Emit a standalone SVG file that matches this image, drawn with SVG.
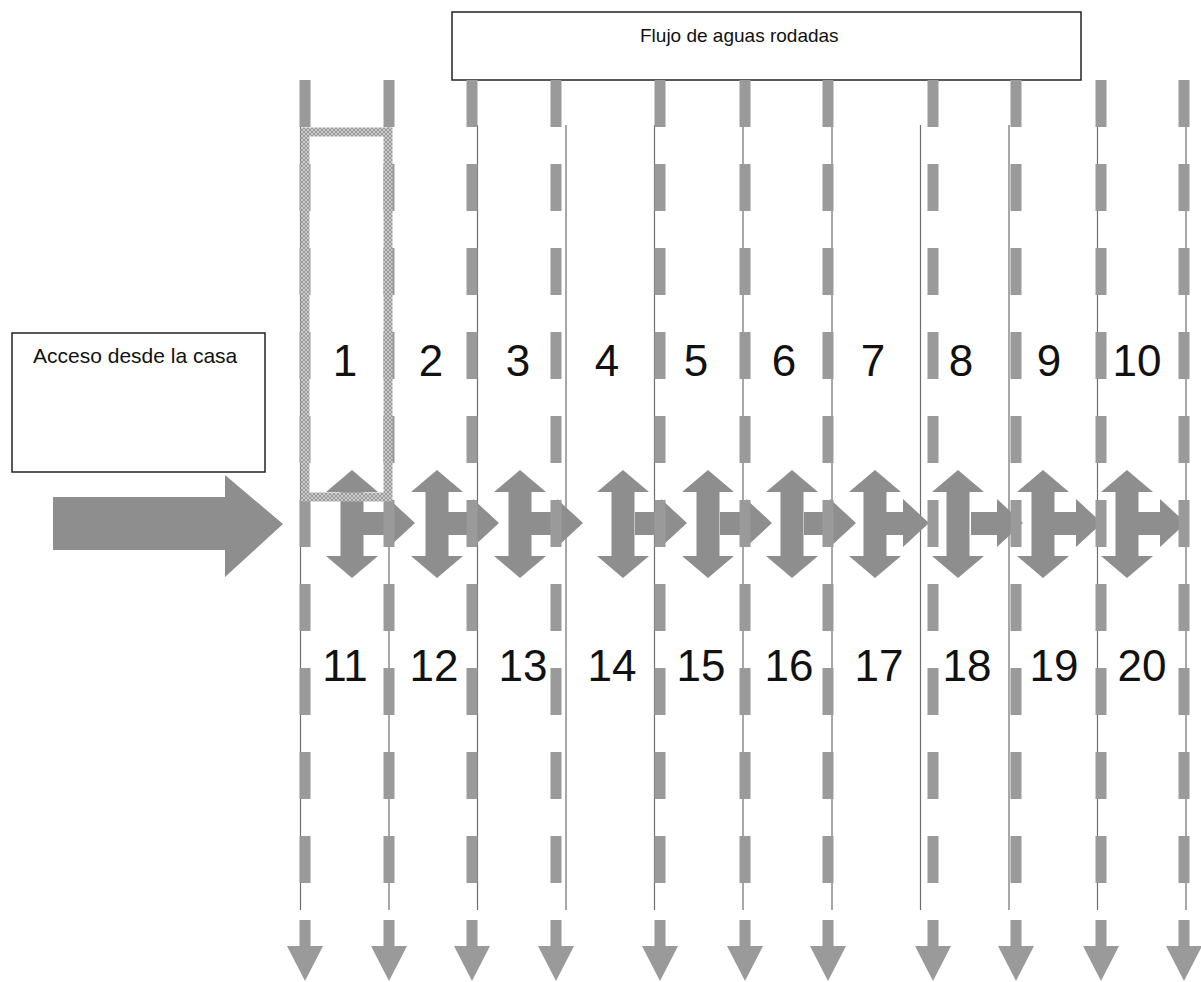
<svg xmlns="http://www.w3.org/2000/svg" xmlns:xlink="http://www.w3.org/1999/xlink" width="1201" height="982" viewBox="0 0 1201 982">
<style>
.box{fill:#fff;stroke:#222;stroke-width:1.5}
.lbl{font-family:"Liberation Sans",Arial,sans-serif;fill:#111}
.num{font-family:"Liberation Sans",Arial,sans-serif;font-size:44px;fill:#111;text-anchor:middle}
.thin{stroke:#6e6e6e;stroke-width:1.2}
.dash{stroke:#9a9a9a;stroke-width:11;stroke-dasharray:47 37;fill:none}
.arr{fill:#8e8e8e}
.head{fill:#9a9a9a}
</style>
<defs>
<pattern id="hatch" width="4" height="4" patternUnits="userSpaceOnUse">
<rect width="4" height="4" fill="#cacaca"/>
<path d="M0,0L4,4M4,0L0,4" stroke="#9c9c9c" stroke-width="1"/>
</pattern>
<g id="vdouble">
<polygon class="arr" points="0,470 26,492 11.5,492 11.5,556 26,556 0,578 -26,556 -11.5,556 -11.5,492 -26,492"/>
</g>
<g id="hright">
<polygon class="arr" points="11,512 37,512 37,499 63,523 37,547 37,535 11,535"/>
</g>
<g id="downhead">
<polygon class="head" points="-18,946 18,946 0,981"/>
</g>
</defs>
<rect width="1201" height="982" fill="#fff"/>

<g id="thin-lines">
<line class="thin" x1="300.5" y1="125" x2="300.5" y2="910"/>
<line class="thin" x1="389" y1="125" x2="389" y2="910"/>
<line class="thin" x1="477.5" y1="125" x2="477.5" y2="910"/>
<line class="thin" x1="566" y1="125" x2="566" y2="910"/>
<line class="thin" x1="654.5" y1="125" x2="654.5" y2="910"/>
<line class="thin" x1="743" y1="125" x2="743" y2="910"/>
<line class="thin" x1="832" y1="125" x2="832" y2="910"/>
<line class="thin" x1="920.5" y1="125" x2="920.5" y2="910"/>
<line class="thin" x1="1009" y1="125" x2="1009" y2="910"/>
<line class="thin" x1="1097.5" y1="125" x2="1097.5" y2="910"/>
<line class="thin" x1="1186" y1="125" x2="1186" y2="910"/>
</g>

<g id="flujo">
<rect class="box" x="452" y="12" width="629" height="68"/>
<text class="lbl" x="640" y="42" font-size="19">Flujo de aguas rodadas</text>
</g>

<g id="acceso">
<rect class="box" x="12" y="333" width="253" height="139"/>
<text class="lbl" x="33" y="363" font-size="21">Acceso desde la casa</text>
</g>

<g id="acceso-arrow">
<polygon class="arr" points="53,497 225,497 225,475 283,524 225,577 225,550 53,550"/>
</g>

<g id="connectors">
<use xlink:href="#vdouble" x="352"/><use xlink:href="#hright" x="352"/>
<use xlink:href="#vdouble" x="437"/><use xlink:href="#hright" x="436"/>
<use xlink:href="#vdouble" x="520"/><use xlink:href="#hright" x="520"/>
<use xlink:href="#vdouble" x="623"/><use xlink:href="#hright" x="624"/>
<use xlink:href="#vdouble" x="708"/><use xlink:href="#hright" x="709"/>
<use xlink:href="#vdouble" x="792"/><use xlink:href="#hright" x="793"/>
<use xlink:href="#vdouble" x="875"/><use xlink:href="#hright" x="866"/>
<use xlink:href="#vdouble" x="958"/><use xlink:href="#hright" x="960"/>
<use xlink:href="#vdouble" x="1043"/><use xlink:href="#hright" x="1039"/>
<use xlink:href="#vdouble" x="1127"/><use xlink:href="#hright" x="1123"/>
</g>

<g id="flow-lines">
<line class="dash" x1="305" y1="80" x2="305" y2="950"/><use xlink:href="#downhead" x="305"/>
<line class="dash" x1="389" y1="80" x2="389" y2="950"/><use xlink:href="#downhead" x="389"/>
<line class="dash" x1="472" y1="80" x2="472" y2="950"/><use xlink:href="#downhead" x="472"/>
<line class="dash" x1="556" y1="80" x2="556" y2="950"/><use xlink:href="#downhead" x="556"/>
<line class="dash" x1="660" y1="80" x2="660" y2="950"/><use xlink:href="#downhead" x="660"/>
<line class="dash" x1="745" y1="80" x2="745" y2="950"/><use xlink:href="#downhead" x="745"/>
<line class="dash" x1="828" y1="80" x2="828" y2="950"/><use xlink:href="#downhead" x="828"/>
<line class="dash" x1="933" y1="80" x2="933" y2="950"/><use xlink:href="#downhead" x="933"/>
<line class="dash" x1="1016" y1="80" x2="1016" y2="950"/><use xlink:href="#downhead" x="1016"/>
<line class="dash" x1="1101" y1="80" x2="1101" y2="950"/><use xlink:href="#downhead" x="1101"/>
<line class="dash" x1="1184" y1="80" x2="1184" y2="950"/><use xlink:href="#downhead" x="1184"/>
</g>

<g id="cell-1-frame">
<rect x="305" y="132" width="83" height="365" fill="none" stroke="url(#hatch)" stroke-width="9"/>
</g>

<g id="labels-top">
<text class="num" x="345" y="376">1</text>
<text class="num" x="431" y="376">2</text>
<text class="num" x="518" y="376">3</text>
<text class="num" x="607" y="376">4</text>
<text class="num" x="696" y="376">5</text>
<text class="num" x="784" y="376">6</text>
<text class="num" x="873" y="376">7</text>
<text class="num" x="961" y="376">8</text>
<text class="num" x="1049" y="376">9</text>
<text class="num" x="1137" y="376">10</text>
</g>
<g id="labels-bottom">
<text class="num" x="345" y="681">11</text>
<text class="num" x="434" y="681">12</text>
<text class="num" x="523" y="681">13</text>
<text class="num" x="612" y="681">14</text>
<text class="num" x="701" y="681">15</text>
<text class="num" x="789" y="681">16</text>
<text class="num" x="879" y="681">17</text>
<text class="num" x="967" y="681">18</text>
<text class="num" x="1054" y="681">19</text>
<text class="num" x="1142" y="681">20</text>
</g>
</svg>
